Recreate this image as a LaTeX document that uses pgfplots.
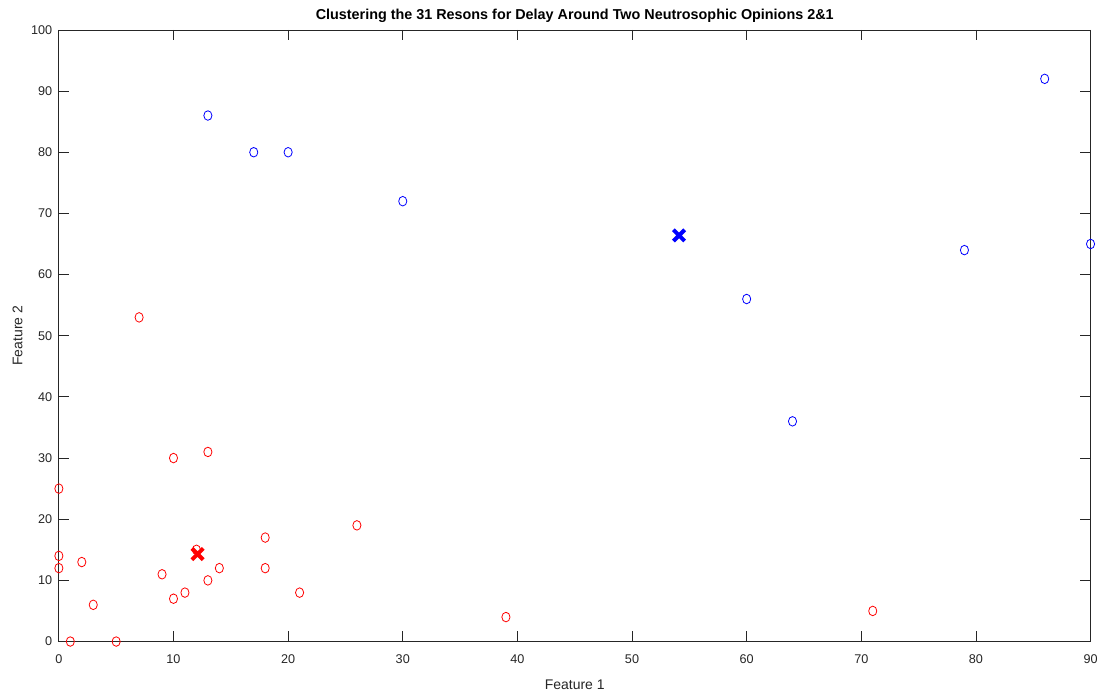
\documentclass[border=0pt]{standalone}
\usepackage{pgfplots}
\pgfplotsset{compat=1.18}
\usepackage{fontspec}
\setmainfont{Liberation Sans}
\definecolor{axgray}{rgb}{0.15,0.15,0.15}

\begin{document}
\begin{tikzpicture}[x=0.75pt,y=0.75pt]
\begin{axis}[
  name=ax,
  scale only axis,
  width=775.5pt, height=459.75pt,
  xmin=0, xmax=90, ymin=0, ymax=100,
  xtick={0,10,...,90}, ytick={0,10,...,100},
  tick align=inside,
  major tick length=7.7pt,
  tick style={axgray, line width=0.6pt},
  axis line style={axgray, line width=0.6pt},
  every tick label/.append style={font=\fontsize{9.5}{11}\selectfont, text=axgray},
  /pgf/number format/assume math mode=true,
  xticklabel style={yshift=-6.5pt},
  yticklabel style={xshift=-1.5pt},
  xlabel={Feature 1}, ylabel={Feature 2},
  label style={font=\fontsize{10.5}{12}\selectfont, text=axgray},
  xlabel style={yshift=-5pt},
  ylabel style={yshift=-0.5pt},
  title={Clustering the 31 Resons for Delay Around Two Neutrosophic Opinions 2\&1},
  title style={font=\bfseries\fontsize{10.8}{12}\selectfont, yshift=-4pt},
  clip=false,
]
% cluster 1 members
\addplot[only marks, mark=o, red, mark size=3.6pt,
  mark options={xscale=0.85, line width=0.6pt}] coordinates {
  (0,25) (10,30) (13,31) (0,14) (0,12) (2,13) (9,11) (12,15)
  (14,12) (13,10) (11,8) (10,7) (3,6) (1,0) (5,0) (18,17)
  (18,12) (21,8) (26,19) (7,53) (39,4) (71,5)
};
% cluster 2 members
\addplot[only marks, mark=o, blue, mark size=3.6pt,
  mark options={xscale=0.85, line width=0.6pt}] coordinates {
  (13,86) (17,80) (20,80) (30,72) (60,56) (64,36) (79,64) (86,92) (90,65)
};
% centroids
\addplot[only marks, mark=x, red, mark size=6pt,
  mark options={line width=3pt}] coordinates {(12.1,14.3)};
\addplot[only marks, mark=x, blue, mark size=6pt,
  mark options={line width=3pt}] coordinates {(54.1,66.4)};
\end{axis}
\path (ax.south west) ++(-44.25pt,-34.5pt) coordinate (bbsw);
\path (ax.north east) ++(6.75pt,22.5pt) coordinate (bbne);
\path (bbsw) rectangle (bbne);
\end{tikzpicture}
\end{document}
